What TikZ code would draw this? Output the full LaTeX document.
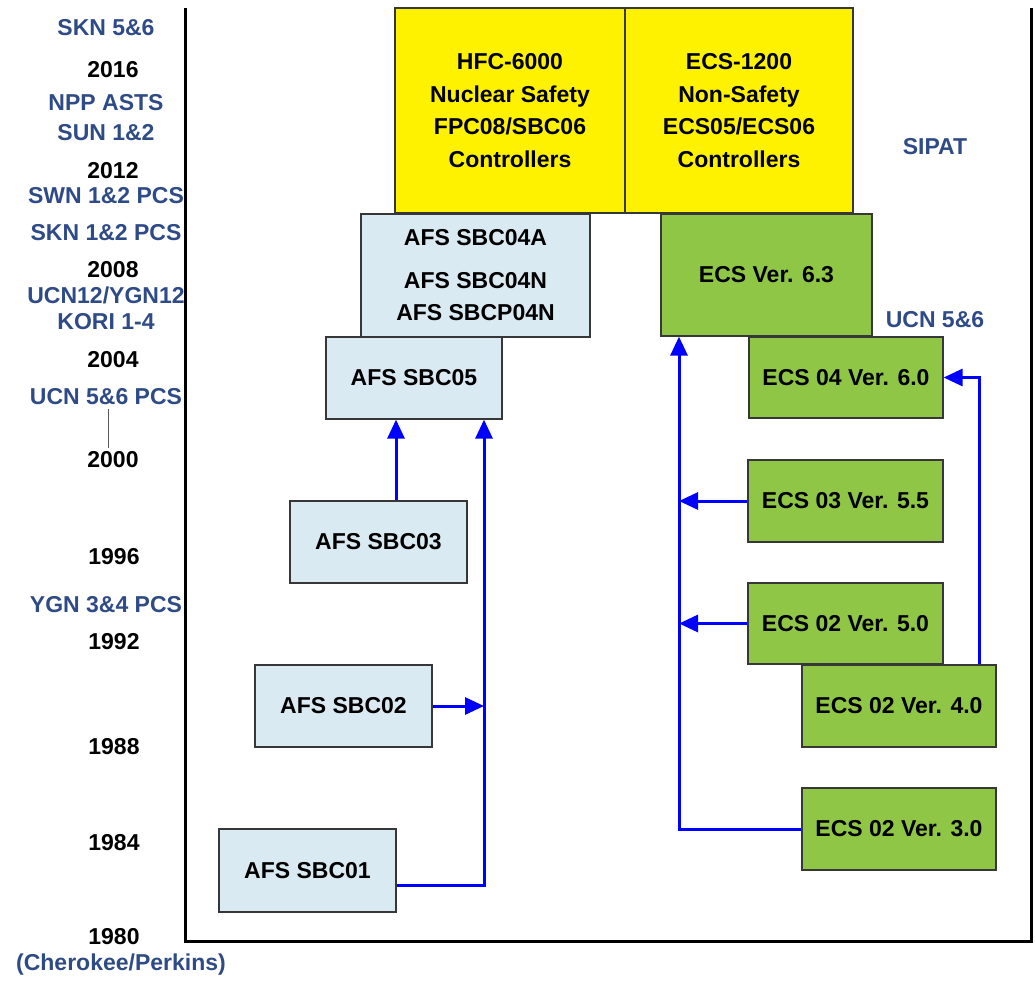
\documentclass[tikz,border=0pt]{standalone}
\usepackage{fontspec}
\setmainfont{Liberation Sans}
\usepackage{tikz}
\usepackage{xcolor}
\usetikzlibrary{arrows.meta}

\definecolor{sitblue}{RGB}{47,75,135}
\definecolor{afsfill}{RGB}{218,234,242}
\definecolor{ecsfill}{RGB}{143,198,70}
\definecolor{boxline}{RGB}{55,55,55}

\begin{document}
\begin{tikzpicture}[x=1pt,y=-1pt,
  every node/.style={font=\fontsize{23}{32.5}\selectfont\bfseries, align=center},
  yr/.style={text=black},
  site/.style={text=sitblue},
  afsbox/.style={draw=boxline, line width=1.2pt, fill=afsfill, inner sep=0pt},
  ecsbox/.style={draw=boxline, line width=1.2pt, fill=ecsfill, inner sep=0pt},
  newbox/.style={draw=boxline, line width=1.2pt, fill=yellow, inner sep=0pt},
  flow/.style={draw=blue, line width=3pt, -{Triangle[length=19pt,width=17pt]}}]
\useasboundingbox (0,0) rectangle (1035,980);
% time axis
\draw[line width=3pt] (185,8) -- (185,941) -- (1031,941) -- (1031,8);
\node[site] (skn56) at (106,28) {SKN 5\&6};
\node[yr] (y2016) at (113,70) {2016};
\node[site] (npp) at (106,103) {NPP ASTS};
\node[site] (sun) at (106,133) {SUN 1\&2};
\node[yr] (y2012) at (113,171) {2012};
\node[site] (swn) at (106,196) {SWN 1\&2 PCS};
\node[site] (skn12) at (106,233) {SKN 1\&2 PCS};
\node[yr] (y2008) at (113,270) {2008};
\node[site] (ucnygn) at (106,295) {UCN12/YGN12};
\node[site] (kori) at (106,322) {KORI 1-4};
\node[yr] (y2004) at (113,360) {2004};
\node[site] (ucnpcs) at (106,397) {UCN 5\&6 PCS};
\node[yr] (y2000) at (113,460) {2000};
\draw[gray!70!black, line width=1pt] (ucnpcs.south -| 108,0) -- (y2000.north -| 108,0);
\node[yr] (y1996) at (114,557) {1996};
\node[site] (ygn) at (106,605) {YGN 3\&4 PCS};
\node[yr] (y1992) at (114,642) {1992};
\node[yr] (y1988) at (114,747) {1988};
\node[yr] (y1984) at (114,843) {1984};
\node[yr] (y1980) at (114,937) {1980};
\node[site] (chero) at (121,965) {(Cherokee/Perkins)};
\node[site] (sipat) at (935,147) {SIPAT};
\node[site] (ucn56) at (935,320) {UCN 5\&6};
% new platforms
\node[newbox, minimum width=230pt, minimum height=205pt] (hfc) at (510,110.5)
  {HFC-6000\\Nuclear Safety\\FPC08/SBC06\\Controllers};
\node[newbox, minimum width=228pt, minimum height=205pt] (ecs1200) at (739,110.5)
  {ECS-1200\\Non-Safety\\ECS05/ECS06\\Controllers};
% AFS line
\node[afsbox, minimum width=229pt, minimum height=123pt] (sbc04) at (475.5,275.5)
  {AFS SBC04A\\[10pt]AFS SBC04N\\AFS SBCP04N};
\node[afsbox, minimum width=176pt, minimum height=82pt] (sbc05) at (414,378) {AFS SBC05};
\node[afsbox, minimum width=177pt, minimum height=82pt] (sbc03) at (378.5,542) {AFS SBC03};
\node[afsbox, minimum width=177pt, minimum height=82pt] (sbc02) at (343.5,706) {AFS SBC02};
\node[afsbox, minimum width=177pt, minimum height=83pt] (sbc01) at (307.5,870.5) {AFS SBC01};
% ECS line
\node[ecsbox, minimum width=211pt, minimum height=122pt] (ecs63) at (766.5,275) {ECS Ver. 6.3};
\node[ecsbox, minimum width=194pt, minimum height=81pt] (ecs60) at (846,377.5) {ECS 04 Ver. 6.0};
\node[ecsbox, minimum width=195pt, minimum height=82pt] (ecs55) at (845.5,501) {ECS 03 Ver. 5.5};
\node[ecsbox, minimum width=195pt, minimum height=81pt] (ecs50) at (845.5,623.5) {ECS 02 Ver. 5.0};
\node[ecsbox, minimum width=194pt, minimum height=82pt] (ecs40) at (899,706) {ECS 02 Ver. 4.0};
\node[ecsbox, minimum width=194pt, minimum height=82pt] (ecs30) at (899,829) {ECS 02 Ver. 3.0};
% bus lines
\coordinate (sbcup) at (396,0);
\coordinate (afsbus) at (484,0);
\coordinate (ecsbus) at (679,0);
\coordinate (ucnbus) at (979,0);
\draw[flow] (sbc03.north -| sbcup) -- (sbc05.south -| sbcup);
\draw[flow] ([yshift=-14.5pt]sbc01.east) -| (sbc05.south -| afsbus);
\draw[flow] (sbc02.east) -- (sbc02.east -| afsbus);
\draw[flow] (ecs30.west) -| (ecs63.south -| ecsbus);
\draw[flow] (ecs55.west) -- (ecs55.west -| ecsbus);
\draw[flow] (ecs50.west) -- (ecs50.west -| ecsbus);
\draw[flow] (ecs40.north -| ucnbus) |- (ecs60.east);
\end{tikzpicture}
\end{document}
